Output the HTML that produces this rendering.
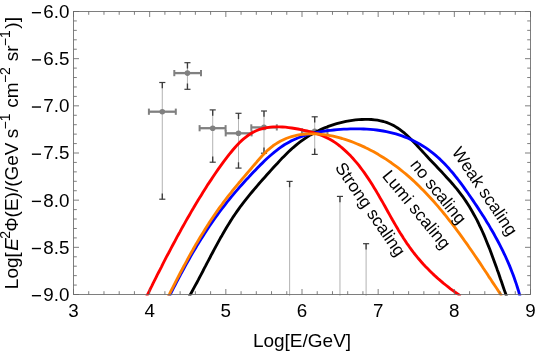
<!DOCTYPE html>
<html><head><meta charset="utf-8"><title>plot</title>
<style>html,body{margin:0;padding:0;background:#fff;}body{width:536px;height:354px;overflow:hidden;font-family:"Liberation Sans",sans-serif;}svg{display:block;will-change:transform}</style>
</head><body>
<svg width="536" height="354" viewBox="0 0 536 354">
<rect width="536" height="354" fill="#fff"/>
<defs><clipPath id="c"><rect x="73.5" y="11.5" width="457.0" height="284.1"/></clipPath></defs>
<g><line x1="289.6" y1="181.4" x2="289.6" y2="295.8" stroke="#b6b6b6" stroke-width="1.05"/><line x1="286.55" y1="181.4" x2="292.65000000000003" y2="181.4" stroke="#3c3c3c" stroke-width="1.2"/><line x1="289.6" y1="181.4" x2="289.6" y2="187.20000000000002" stroke="#3c3c3c" stroke-width="1.35"/><line x1="339.95" y1="196.4" x2="339.95" y2="295.8" stroke="#b6b6b6" stroke-width="1.05"/><line x1="336.9" y1="196.4" x2="343.0" y2="196.4" stroke="#3c3c3c" stroke-width="1.2"/><line x1="339.95" y1="196.4" x2="339.95" y2="202.20000000000002" stroke="#3c3c3c" stroke-width="1.35"/><line x1="366.1" y1="243.7" x2="366.1" y2="295.8" stroke="#b6b6b6" stroke-width="1.05"/><line x1="363.05" y1="243.7" x2="369.15000000000003" y2="243.7" stroke="#3c3c3c" stroke-width="1.2"/><line x1="366.1" y1="243.7" x2="366.1" y2="249.5" stroke="#3c3c3c" stroke-width="1.35"/><line x1="162.3" y1="82.5" x2="162.3" y2="199.2" stroke="#b6b6b6" stroke-width="1.05"/><line x1="159.25" y1="82.5" x2="165.35000000000002" y2="82.5" stroke="#3c3c3c" stroke-width="1.2"/><line x1="162.3" y1="82.5" x2="162.3" y2="88.3" stroke="#3c3c3c" stroke-width="1.35"/><line x1="159.25" y1="199.2" x2="165.35000000000002" y2="199.2" stroke="#3c3c3c" stroke-width="1.2"/><line x1="162.3" y1="199.2" x2="162.3" y2="193.39999999999998" stroke="#3c3c3c" stroke-width="1.35"/><line x1="148.9" y1="111.7" x2="175.8" y2="111.7" stroke="#808080" stroke-width="2.3"/><line x1="148.9" y1="108.60000000000001" x2="148.9" y2="114.8" stroke="#808080" stroke-width="2.0"/><line x1="175.8" y1="108.60000000000001" x2="175.8" y2="114.8" stroke="#808080" stroke-width="2.0"/><circle cx="162.3" cy="111.7" r="2.8" fill="#808080"/><line x1="187.45" y1="62.7" x2="187.45" y2="89.3" stroke="#b6b6b6" stroke-width="1.05"/><line x1="184.39999999999998" y1="62.7" x2="190.5" y2="62.7" stroke="#3c3c3c" stroke-width="1.2"/><line x1="187.45" y1="62.7" x2="187.45" y2="68.5" stroke="#3c3c3c" stroke-width="1.35"/><line x1="184.39999999999998" y1="89.3" x2="190.5" y2="89.3" stroke="#3c3c3c" stroke-width="1.2"/><line x1="187.45" y1="89.3" x2="187.45" y2="83.5" stroke="#3c3c3c" stroke-width="1.35"/><line x1="174.3" y1="73.1" x2="201" y2="73.1" stroke="#808080" stroke-width="2.3"/><line x1="174.3" y1="70.0" x2="174.3" y2="76.19999999999999" stroke="#808080" stroke-width="2.0"/><line x1="201" y1="70.0" x2="201" y2="76.19999999999999" stroke="#808080" stroke-width="2.0"/><circle cx="187.45" cy="73.1" r="2.8" fill="#808080"/><line x1="212.7" y1="109.9" x2="212.7" y2="162.2" stroke="#b6b6b6" stroke-width="1.05"/><line x1="209.64999999999998" y1="109.9" x2="215.75" y2="109.9" stroke="#3c3c3c" stroke-width="1.2"/><line x1="212.7" y1="109.9" x2="212.7" y2="115.7" stroke="#3c3c3c" stroke-width="1.35"/><line x1="209.64999999999998" y1="162.2" x2="215.75" y2="162.2" stroke="#3c3c3c" stroke-width="1.2"/><line x1="212.7" y1="162.2" x2="212.7" y2="156.39999999999998" stroke="#3c3c3c" stroke-width="1.35"/><line x1="199.6" y1="128.2" x2="225.6" y2="128.2" stroke="#808080" stroke-width="2.3"/><line x1="199.6" y1="125.1" x2="199.6" y2="131.29999999999998" stroke="#808080" stroke-width="2.0"/><line x1="225.6" y1="125.1" x2="225.6" y2="131.29999999999998" stroke="#808080" stroke-width="2.0"/><circle cx="212.7" cy="128.2" r="2.8" fill="#808080"/><line x1="238.5" y1="113.3" x2="238.5" y2="168.1" stroke="#b6b6b6" stroke-width="1.05"/><line x1="235.45" y1="113.3" x2="241.55" y2="113.3" stroke="#3c3c3c" stroke-width="1.2"/><line x1="238.5" y1="113.3" x2="238.5" y2="119.1" stroke="#3c3c3c" stroke-width="1.35"/><line x1="235.45" y1="168.1" x2="241.55" y2="168.1" stroke="#3c3c3c" stroke-width="1.2"/><line x1="238.5" y1="168.1" x2="238.5" y2="162.29999999999998" stroke="#3c3c3c" stroke-width="1.35"/><line x1="225.7" y1="133.3" x2="251.6" y2="133.3" stroke="#808080" stroke-width="2.3"/><line x1="225.7" y1="130.20000000000002" x2="225.7" y2="136.4" stroke="#808080" stroke-width="2.0"/><line x1="251.6" y1="130.20000000000002" x2="251.6" y2="136.4" stroke="#808080" stroke-width="2.0"/><circle cx="238.5" cy="133.3" r="2.8" fill="#808080"/><line x1="264" y1="111" x2="264" y2="153.2" stroke="#b6b6b6" stroke-width="1.05"/><line x1="260.95" y1="111" x2="267.05" y2="111" stroke="#3c3c3c" stroke-width="1.2"/><line x1="264" y1="111" x2="264" y2="116.8" stroke="#3c3c3c" stroke-width="1.35"/><line x1="260.95" y1="153.2" x2="267.05" y2="153.2" stroke="#3c3c3c" stroke-width="1.2"/><line x1="264" y1="153.2" x2="264" y2="147.39999999999998" stroke="#3c3c3c" stroke-width="1.35"/><line x1="251.3" y1="127.4" x2="276.8" y2="127.4" stroke="#808080" stroke-width="2.3"/><line x1="251.3" y1="124.30000000000001" x2="251.3" y2="130.5" stroke="#808080" stroke-width="2.0"/><line x1="276.8" y1="124.30000000000001" x2="276.8" y2="130.5" stroke="#808080" stroke-width="2.0"/><circle cx="264" cy="127.4" r="2.8" fill="#808080"/><line x1="314.7" y1="116.8" x2="314.7" y2="154.4" stroke="#b6b6b6" stroke-width="1.05"/><line x1="311.65" y1="116.8" x2="317.75" y2="116.8" stroke="#3c3c3c" stroke-width="1.2"/><line x1="314.7" y1="116.8" x2="314.7" y2="122.6" stroke="#3c3c3c" stroke-width="1.35"/><line x1="311.65" y1="154.4" x2="317.75" y2="154.4" stroke="#3c3c3c" stroke-width="1.2"/><line x1="314.7" y1="154.4" x2="314.7" y2="148.6" stroke="#3c3c3c" stroke-width="1.35"/><line x1="301.9" y1="131.3" x2="327.5" y2="131.3" stroke="#808080" stroke-width="2.3"/><line x1="301.9" y1="128.20000000000002" x2="301.9" y2="134.4" stroke="#808080" stroke-width="2.0"/><line x1="327.5" y1="128.20000000000002" x2="327.5" y2="134.4" stroke="#808080" stroke-width="2.0"/><circle cx="314.7" cy="131.3" r="2.8" fill="#808080"/></g>
<g clip-path="url(#c)" fill="none" stroke-width="2.85" stroke-linejoin="round" stroke-linecap="butt">
<path d="M189.2,296.5 L190.8,293.7 L192.3,291.0 L193.8,288.2 L195.3,285.4 L196.8,282.7 L198.3,279.9 L199.7,277.1 L201.2,274.3 L202.7,271.5 L204.1,268.7 L205.6,265.9 L207.0,263.1 L208.5,260.3 L210.0,257.5 L211.4,254.7 L212.9,252.0 L214.4,249.2 L215.9,246.4 L217.4,243.6 L218.9,240.9 L220.4,238.1 L222.0,235.4 L223.5,232.7 L225.1,230.0 L226.7,227.3 L228.4,224.6 L230.0,221.9 L231.7,219.3 L233.4,216.6 L235.2,214.0 L237.0,211.4 L238.8,208.9 L240.6,206.3 L242.5,203.8 L244.4,201.3 L246.4,198.8 L248.4,196.4 L250.4,193.9 L252.4,191.5 L254.4,189.1 L256.5,186.7 L258.5,184.3 L260.6,181.9 L262.7,179.5 L264.8,177.2 L266.9,174.8 L269.0,172.5 L271.1,170.1 L273.2,167.8 L275.3,165.5 L277.5,163.2 L279.6,160.9 L281.7,158.6 L283.9,156.4 L286.1,154.2 L288.3,152.0 L290.6,149.9 L292.9,147.8 L295.2,145.8 L297.6,143.8 L300.1,141.9 L302.6,140.1 L305.2,138.3 L307.8,136.6 L310.5,134.9 L313.2,133.4 L316.0,131.9 L318.8,130.5 L321.7,129.1 L324.6,127.9 L327.6,126.7 L330.6,125.6 L333.6,124.6 L336.7,123.7 L339.8,122.8 L342.9,122.1 L346.0,121.4 L349.2,120.8 L352.3,120.3 L355.5,119.9 L358.7,119.6 L361.9,119.5 L365.0,119.4 L368.2,119.4 L371.3,119.5 L374.5,119.8 L377.5,120.2 L380.5,120.8 L383.5,121.5 L386.4,122.4 L389.2,123.5 L392.0,124.7 L394.6,126.1 L397.2,127.7 L399.7,129.4 L402.2,131.3 L404.6,133.2 L406.9,135.3 L409.2,137.5 L411.5,139.7 L413.7,142.0 L415.9,144.3 L418.1,146.7 L420.3,149.1 L422.5,151.5 L424.7,153.9 L426.9,156.3 L429.1,158.7 L431.3,161.0 L433.5,163.3 L435.7,165.6 L437.9,168.0 L440.1,170.3 L442.3,172.6 L444.4,174.9 L446.5,177.2 L448.6,179.5 L450.7,181.8 L452.8,184.2 L454.8,186.6 L456.8,188.9 L458.7,191.4 L460.6,193.8 L462.5,196.3 L464.2,198.8 L466.0,201.4 L467.7,204.0 L469.3,206.6 L470.9,209.3 L472.5,212.0 L474.0,214.7 L475.5,217.4 L477.0,220.2 L478.4,223.0 L479.7,225.8 L481.1,228.7 L482.4,231.5 L483.7,234.4 L484.9,237.3 L486.1,240.2 L487.3,243.2 L488.5,246.1 L489.7,249.0 L490.8,252.0 L491.9,255.0 L493.0,257.9 L494.1,260.9 L495.2,263.9 L496.3,266.9 L497.3,269.9 L498.4,272.8 L499.4,275.8 L500.4,278.8 L501.5,281.8 L502.5,284.7 L503.5,287.7 L504.5,290.6 L505.6,293.6 L506.6,296.5" stroke="#000"/>
<path d="M169.2,296.5 L170.7,293.6 L172.2,290.7 L173.7,287.7 L175.2,284.8 L176.7,281.9 L178.2,279.0 L179.8,276.1 L181.3,273.2 L182.9,270.4 L184.4,267.5 L186.0,264.6 L187.6,261.8 L189.2,259.0 L190.8,256.1 L192.4,253.3 L194.1,250.5 L195.8,247.7 L197.4,244.9 L199.1,242.2 L200.8,239.4 L202.6,236.7 L204.3,233.9 L206.1,231.2 L207.9,228.5 L209.7,225.8 L211.5,223.1 L213.4,220.5 L215.3,217.8 L217.2,215.2 L219.1,212.5 L221.0,209.9 L223.0,207.3 L225.0,204.8 L227.0,202.2 L229.1,199.7 L231.1,197.1 L233.2,194.6 L235.3,192.1 L237.5,189.6 L239.6,187.1 L241.8,184.7 L244.0,182.2 L246.2,179.8 L248.5,177.4 L250.7,175.0 L253.0,172.6 L255.3,170.2 L257.6,167.8 L259.9,165.4 L262.3,163.1 L264.6,160.8 L267.0,158.5 L269.5,156.3 L271.9,154.2 L274.4,152.1 L277.0,150.1 L279.5,148.1 L282.2,146.3 L284.8,144.5 L287.6,142.9 L290.3,141.4 L293.2,140.0 L296.1,138.7 L299.0,137.5 L302.0,136.4 L305.0,135.4 L308.1,134.5 L311.2,133.6 L314.4,132.9 L317.5,132.3 L320.7,131.7 L324.0,131.2 L327.2,130.7 L330.5,130.3 L333.8,130.0 L337.1,129.7 L340.4,129.4 L343.7,129.2 L347.0,129.1 L350.3,128.9 L353.7,128.9 L357.0,128.9 L360.3,128.9 L363.6,129.0 L366.9,129.2 L370.2,129.4 L373.5,129.7 L376.7,130.0 L380.0,130.5 L383.2,131.0 L386.4,131.6 L389.6,132.3 L392.7,133.1 L395.9,133.9 L399.0,134.9 L402.0,135.9 L405.1,137.1 L408.1,138.3 L411.0,139.6 L413.9,141.0 L416.8,142.5 L419.6,144.0 L422.4,145.7 L425.1,147.4 L427.7,149.2 L430.3,151.1 L432.9,153.1 L435.4,155.1 L437.8,157.2 L440.2,159.4 L442.5,161.7 L444.8,164.0 L447.0,166.4 L449.2,168.8 L451.3,171.3 L453.5,173.8 L455.5,176.4 L457.6,179.0 L459.6,181.6 L461.5,184.2 L463.5,186.9 L465.4,189.6 L467.3,192.3 L469.2,195.0 L471.1,197.7 L472.9,200.4 L474.8,203.2 L476.6,205.9 L478.4,208.6 L480.2,211.4 L481.9,214.1 L483.7,216.8 L485.4,219.6 L487.1,222.4 L488.8,225.1 L490.4,227.9 L492.1,230.7 L493.7,233.5 L495.2,236.3 L496.8,239.2 L498.3,242.0 L499.8,244.9 L501.3,247.8 L502.7,250.7 L504.1,253.6 L505.5,256.5 L506.8,259.5 L508.1,262.4 L509.4,265.4 L510.6,268.4 L511.8,271.5 L513.0,274.5 L514.1,277.6 L515.2,280.7 L516.3,283.9 L517.3,287.0 L518.3,290.2 L519.2,293.4 L520.1,296.7" stroke="#0000ff"/>
<path d="M146.6,296.5 L147.9,293.8 L149.3,291.1 L150.6,288.3 L152.0,285.6 L153.3,282.9 L154.7,280.2 L156.1,277.4 L157.4,274.7 L158.8,272.0 L160.2,269.3 L161.6,266.6 L162.9,263.9 L164.3,261.2 L165.7,258.4 L167.1,255.7 L168.6,253.0 L170.0,250.3 L171.4,247.6 L172.8,245.0 L174.3,242.3 L175.7,239.6 L177.1,236.9 L178.6,234.2 L180.1,231.6 L181.5,228.9 L183.0,226.2 L184.5,223.6 L186.0,220.9 L187.5,218.3 L189.0,215.7 L190.5,213.1 L192.0,210.4 L193.6,207.8 L195.1,205.2 L196.7,202.6 L198.2,200.0 L199.8,197.5 L201.4,194.9 L203.0,192.3 L204.6,189.8 L206.2,187.2 L207.8,184.6 L209.5,182.1 L211.2,179.6 L212.9,177.0 L214.6,174.5 L216.3,172.0 L218.1,169.4 L219.9,166.9 L221.7,164.4 L223.5,161.9 L225.4,159.4 L227.3,156.9 L229.2,154.4 L231.2,152.0 L233.2,149.5 L235.2,147.2 L237.3,144.9 L239.4,142.7 L241.6,140.6 L243.9,138.6 L246.2,136.8 L248.6,135.0 L251.0,133.5 L253.6,132.0 L256.2,130.8 L258.8,129.7 L261.6,128.9 L264.4,128.1 L267.3,127.6 L270.3,127.2 L273.2,126.9 L276.3,126.8 L279.3,126.9 L282.4,127.0 L285.5,127.2 L288.6,127.6 L291.7,128.0 L294.8,128.5 L297.9,129.0 L301.0,129.7 L304.1,130.3 L307.1,131.0 L310.1,131.8 L313.1,132.6 L316.0,133.5 L318.9,134.4 L321.7,135.5 L324.5,136.6 L327.2,137.9 L329.8,139.3 L332.4,140.8 L334.9,142.4 L337.4,144.2 L339.8,146.0 L342.1,147.9 L344.3,149.9 L346.5,151.9 L348.7,154.0 L350.8,156.1 L352.8,158.3 L354.8,160.6 L356.8,162.9 L358.7,165.2 L360.5,167.6 L362.3,170.0 L364.1,172.4 L365.8,174.9 L367.5,177.4 L369.2,179.9 L370.9,182.5 L372.5,185.1 L374.1,187.7 L375.7,190.3 L377.2,192.9 L378.8,195.6 L380.3,198.3 L381.9,200.9 L383.4,203.6 L384.9,206.3 L386.4,209.0 L387.9,211.7 L389.4,214.4 L390.9,217.1 L392.4,219.8 L394.0,222.5 L395.5,225.1 L397.1,227.8 L398.6,230.4 L400.2,233.0 L401.9,235.6 L403.5,238.2 L405.2,240.7 L406.8,243.3 L408.6,245.7 L410.3,248.2 L412.1,250.6 L413.9,253.0 L415.8,255.4 L417.7,257.7 L419.7,260.0 L421.6,262.2 L423.6,264.5 L425.7,266.7 L427.8,268.8 L429.9,270.9 L432.0,273.0 L434.2,275.1 L436.4,277.1 L438.7,279.2 L441.0,281.1 L443.3,283.1 L445.7,285.0 L448.1,286.9 L450.5,288.8 L453.0,290.6 L455.5,292.4 L458.0,294.2 L460.6,296.0" stroke="#ff0000"/>
<path d="M168.2,296.5 L169.6,293.8 L170.9,291.1 L172.3,288.5 L173.6,285.8 L175.0,283.1 L176.4,280.4 L177.8,277.7 L179.2,275.0 L180.6,272.2 L182.1,269.5 L183.5,266.8 L185.0,264.1 L186.5,261.4 L187.9,258.6 L189.4,255.9 L190.9,253.2 L192.5,250.5 L194.0,247.8 L195.5,245.1 L197.1,242.5 L198.7,239.8 L200.3,237.1 L201.9,234.5 L203.5,231.9 L205.1,229.2 L206.7,226.7 L208.4,224.1 L210.0,221.5 L211.7,219.0 L213.4,216.5 L215.1,214.0 L216.8,211.5 L218.5,209.1 L220.3,206.6 L222.1,204.3 L223.8,201.9 L225.6,199.5 L227.4,197.2 L229.2,194.9 L231.1,192.6 L232.9,190.2 L234.8,187.9 L236.7,185.6 L238.6,183.3 L240.6,181.0 L242.5,178.7 L244.5,176.3 L246.5,174.0 L248.5,171.6 L250.6,169.2 L252.7,166.7 L254.8,164.3 L256.9,161.8 L259.1,159.3 L261.3,156.8 L263.5,154.4 L265.8,152.0 L268.1,149.8 L270.5,147.8 L273.0,145.8 L275.5,144.1 L278.1,142.5 L280.7,141.0 L283.4,139.7 L286.1,138.5 L288.8,137.5 L291.6,136.6 L294.5,135.8 L297.3,135.2 L300.2,134.7 L303.1,134.3 L306.1,134.0 L309.0,133.9 L312.0,133.8 L315.0,133.9 L318.0,134.0 L321.0,134.3 L324.0,134.6 L327.0,135.1 L330.1,135.6 L333.1,136.2 L336.1,136.9 L339.1,137.7 L342.1,138.5 L345.0,139.4 L348.0,140.4 L350.9,141.4 L353.8,142.5 L356.7,143.7 L359.5,144.9 L362.3,146.1 L365.1,147.4 L367.9,148.8 L370.6,150.2 L373.3,151.6 L375.9,153.1 L378.5,154.6 L381.1,156.2 L383.7,157.8 L386.3,159.4 L388.8,161.1 L391.3,162.8 L393.7,164.6 L396.2,166.4 L398.6,168.2 L401.0,170.1 L403.3,172.0 L405.7,173.9 L408.0,175.9 L410.3,177.9 L412.5,179.9 L414.8,182.0 L417.0,184.1 L419.2,186.2 L421.3,188.4 L423.5,190.6 L425.6,192.8 L427.7,195.0 L429.8,197.2 L431.9,199.5 L434.0,201.8 L436.0,204.1 L438.0,206.4 L440.0,208.8 L442.0,211.2 L443.9,213.5 L445.9,215.9 L447.8,218.4 L449.7,220.8 L451.6,223.2 L453.5,225.7 L455.4,228.2 L457.2,230.6 L459.1,233.1 L460.9,235.6 L462.7,238.1 L464.5,240.7 L466.3,243.2 L468.1,245.7 L469.8,248.2 L471.6,250.8 L473.3,253.3 L475.0,255.8 L476.8,258.4 L478.5,260.9 L480.2,263.4 L481.9,266.0 L483.5,268.5 L485.2,271.0 L486.9,273.5 L488.5,276.1 L490.2,278.6 L491.8,281.1 L493.5,283.6 L495.1,286.0 L496.8,288.5 L498.4,291.0 L500.0,293.4 L501.6,295.9" stroke="#ff8000"/>
</g>
<g stroke="#686868" stroke-width="0.85" fill="none"><rect x="73.5" y="11.5" width="457.0" height="283.0" fill="none" stroke="#686868" stroke-width="0.85"/><line x1="73.50" y1="294.5" x2="73.50" y2="289.0"/><line x1="73.50" y1="11.5" x2="73.50" y2="17.0"/><line x1="88.73" y1="294.5" x2="88.73" y2="291.2"/><line x1="88.73" y1="11.5" x2="88.73" y2="14.8"/><line x1="103.97" y1="294.5" x2="103.97" y2="291.2"/><line x1="103.97" y1="11.5" x2="103.97" y2="14.8"/><line x1="119.20" y1="294.5" x2="119.20" y2="291.2"/><line x1="119.20" y1="11.5" x2="119.20" y2="14.8"/><line x1="134.43" y1="294.5" x2="134.43" y2="291.2"/><line x1="134.43" y1="11.5" x2="134.43" y2="14.8"/><line x1="149.67" y1="294.5" x2="149.67" y2="289.0"/><line x1="149.67" y1="11.5" x2="149.67" y2="17.0"/><line x1="164.90" y1="294.5" x2="164.90" y2="291.2"/><line x1="164.90" y1="11.5" x2="164.90" y2="14.8"/><line x1="180.13" y1="294.5" x2="180.13" y2="291.2"/><line x1="180.13" y1="11.5" x2="180.13" y2="14.8"/><line x1="195.37" y1="294.5" x2="195.37" y2="291.2"/><line x1="195.37" y1="11.5" x2="195.37" y2="14.8"/><line x1="210.60" y1="294.5" x2="210.60" y2="291.2"/><line x1="210.60" y1="11.5" x2="210.60" y2="14.8"/><line x1="225.83" y1="294.5" x2="225.83" y2="289.0"/><line x1="225.83" y1="11.5" x2="225.83" y2="17.0"/><line x1="241.07" y1="294.5" x2="241.07" y2="291.2"/><line x1="241.07" y1="11.5" x2="241.07" y2="14.8"/><line x1="256.30" y1="294.5" x2="256.30" y2="291.2"/><line x1="256.30" y1="11.5" x2="256.30" y2="14.8"/><line x1="271.53" y1="294.5" x2="271.53" y2="291.2"/><line x1="271.53" y1="11.5" x2="271.53" y2="14.8"/><line x1="286.77" y1="294.5" x2="286.77" y2="291.2"/><line x1="286.77" y1="11.5" x2="286.77" y2="14.8"/><line x1="302.00" y1="294.5" x2="302.00" y2="289.0"/><line x1="302.00" y1="11.5" x2="302.00" y2="17.0"/><line x1="317.23" y1="294.5" x2="317.23" y2="291.2"/><line x1="317.23" y1="11.5" x2="317.23" y2="14.8"/><line x1="332.47" y1="294.5" x2="332.47" y2="291.2"/><line x1="332.47" y1="11.5" x2="332.47" y2="14.8"/><line x1="347.70" y1="294.5" x2="347.70" y2="291.2"/><line x1="347.70" y1="11.5" x2="347.70" y2="14.8"/><line x1="362.93" y1="294.5" x2="362.93" y2="291.2"/><line x1="362.93" y1="11.5" x2="362.93" y2="14.8"/><line x1="378.17" y1="294.5" x2="378.17" y2="289.0"/><line x1="378.17" y1="11.5" x2="378.17" y2="17.0"/><line x1="393.40" y1="294.5" x2="393.40" y2="291.2"/><line x1="393.40" y1="11.5" x2="393.40" y2="14.8"/><line x1="408.63" y1="294.5" x2="408.63" y2="291.2"/><line x1="408.63" y1="11.5" x2="408.63" y2="14.8"/><line x1="423.87" y1="294.5" x2="423.87" y2="291.2"/><line x1="423.87" y1="11.5" x2="423.87" y2="14.8"/><line x1="439.10" y1="294.5" x2="439.10" y2="291.2"/><line x1="439.10" y1="11.5" x2="439.10" y2="14.8"/><line x1="454.33" y1="294.5" x2="454.33" y2="289.0"/><line x1="454.33" y1="11.5" x2="454.33" y2="17.0"/><line x1="469.57" y1="294.5" x2="469.57" y2="291.2"/><line x1="469.57" y1="11.5" x2="469.57" y2="14.8"/><line x1="484.80" y1="294.5" x2="484.80" y2="291.2"/><line x1="484.80" y1="11.5" x2="484.80" y2="14.8"/><line x1="500.03" y1="294.5" x2="500.03" y2="291.2"/><line x1="500.03" y1="11.5" x2="500.03" y2="14.8"/><line x1="515.27" y1="294.5" x2="515.27" y2="291.2"/><line x1="515.27" y1="11.5" x2="515.27" y2="14.8"/><line x1="530.50" y1="294.5" x2="530.50" y2="289.0"/><line x1="530.50" y1="11.5" x2="530.50" y2="17.0"/><line x1="73.5" y1="11.50" x2="79.0" y2="11.50"/><line x1="530.5" y1="11.50" x2="525.0" y2="11.50"/><line x1="73.5" y1="20.93" x2="76.8" y2="20.93"/><line x1="530.5" y1="20.93" x2="527.2" y2="20.93"/><line x1="73.5" y1="30.37" x2="76.8" y2="30.37"/><line x1="530.5" y1="30.37" x2="527.2" y2="30.37"/><line x1="73.5" y1="39.80" x2="76.8" y2="39.80"/><line x1="530.5" y1="39.80" x2="527.2" y2="39.80"/><line x1="73.5" y1="49.23" x2="76.8" y2="49.23"/><line x1="530.5" y1="49.23" x2="527.2" y2="49.23"/><line x1="73.5" y1="58.67" x2="79.0" y2="58.67"/><line x1="530.5" y1="58.67" x2="525.0" y2="58.67"/><line x1="73.5" y1="68.10" x2="76.8" y2="68.10"/><line x1="530.5" y1="68.10" x2="527.2" y2="68.10"/><line x1="73.5" y1="77.53" x2="76.8" y2="77.53"/><line x1="530.5" y1="77.53" x2="527.2" y2="77.53"/><line x1="73.5" y1="86.97" x2="76.8" y2="86.97"/><line x1="530.5" y1="86.97" x2="527.2" y2="86.97"/><line x1="73.5" y1="96.40" x2="76.8" y2="96.40"/><line x1="530.5" y1="96.40" x2="527.2" y2="96.40"/><line x1="73.5" y1="105.83" x2="79.0" y2="105.83"/><line x1="530.5" y1="105.83" x2="525.0" y2="105.83"/><line x1="73.5" y1="115.27" x2="76.8" y2="115.27"/><line x1="530.5" y1="115.27" x2="527.2" y2="115.27"/><line x1="73.5" y1="124.70" x2="76.8" y2="124.70"/><line x1="530.5" y1="124.70" x2="527.2" y2="124.70"/><line x1="73.5" y1="134.13" x2="76.8" y2="134.13"/><line x1="530.5" y1="134.13" x2="527.2" y2="134.13"/><line x1="73.5" y1="143.57" x2="76.8" y2="143.57"/><line x1="530.5" y1="143.57" x2="527.2" y2="143.57"/><line x1="73.5" y1="153.00" x2="79.0" y2="153.00"/><line x1="530.5" y1="153.00" x2="525.0" y2="153.00"/><line x1="73.5" y1="162.43" x2="76.8" y2="162.43"/><line x1="530.5" y1="162.43" x2="527.2" y2="162.43"/><line x1="73.5" y1="171.87" x2="76.8" y2="171.87"/><line x1="530.5" y1="171.87" x2="527.2" y2="171.87"/><line x1="73.5" y1="181.30" x2="76.8" y2="181.30"/><line x1="530.5" y1="181.30" x2="527.2" y2="181.30"/><line x1="73.5" y1="190.73" x2="76.8" y2="190.73"/><line x1="530.5" y1="190.73" x2="527.2" y2="190.73"/><line x1="73.5" y1="200.17" x2="79.0" y2="200.17"/><line x1="530.5" y1="200.17" x2="525.0" y2="200.17"/><line x1="73.5" y1="209.60" x2="76.8" y2="209.60"/><line x1="530.5" y1="209.60" x2="527.2" y2="209.60"/><line x1="73.5" y1="219.03" x2="76.8" y2="219.03"/><line x1="530.5" y1="219.03" x2="527.2" y2="219.03"/><line x1="73.5" y1="228.47" x2="76.8" y2="228.47"/><line x1="530.5" y1="228.47" x2="527.2" y2="228.47"/><line x1="73.5" y1="237.90" x2="76.8" y2="237.90"/><line x1="530.5" y1="237.90" x2="527.2" y2="237.90"/><line x1="73.5" y1="247.33" x2="79.0" y2="247.33"/><line x1="530.5" y1="247.33" x2="525.0" y2="247.33"/><line x1="73.5" y1="256.77" x2="76.8" y2="256.77"/><line x1="530.5" y1="256.77" x2="527.2" y2="256.77"/><line x1="73.5" y1="266.20" x2="76.8" y2="266.20"/><line x1="530.5" y1="266.20" x2="527.2" y2="266.20"/><line x1="73.5" y1="275.63" x2="76.8" y2="275.63"/><line x1="530.5" y1="275.63" x2="527.2" y2="275.63"/><line x1="73.5" y1="285.07" x2="76.8" y2="285.07"/><line x1="530.5" y1="285.07" x2="527.2" y2="285.07"/><line x1="73.5" y1="294.50" x2="79.0" y2="294.50"/><line x1="530.5" y1="294.50" x2="525.0" y2="294.50"/></g>
<g font-family="Liberation Sans, sans-serif" font-size="18.8" fill="#000"><text x="73.50" y="316.7" text-anchor="middle">3</text><text x="149.67" y="316.7" text-anchor="middle">4</text><text x="225.83" y="316.7" text-anchor="middle">5</text><text x="302.00" y="316.7" text-anchor="middle">6</text><text x="378.17" y="316.7" text-anchor="middle">7</text><text x="454.33" y="316.7" text-anchor="middle">8</text><text x="530.50" y="316.7" text-anchor="middle">9</text><text x="69.4" y="17.90" text-anchor="end">6.0</text><rect x="31.9" y="12.00" width="9.1" height="1.4"/><text x="69.4" y="65.07" text-anchor="end">6.5</text><rect x="31.9" y="59.17" width="9.1" height="1.4"/><text x="69.4" y="112.23" text-anchor="end">7.0</text><rect x="31.9" y="106.33" width="9.1" height="1.4"/><text x="69.4" y="159.40" text-anchor="end">7.5</text><rect x="31.9" y="153.50" width="9.1" height="1.4"/><text x="69.4" y="206.57" text-anchor="end">8.0</text><rect x="31.9" y="200.67" width="9.1" height="1.4"/><text x="69.4" y="253.73" text-anchor="end">8.5</text><rect x="31.9" y="247.83" width="9.1" height="1.4"/><text x="69.4" y="300.90" text-anchor="end">9.0</text><rect x="31.9" y="295.00" width="9.1" height="1.4"/></g>
<text x="302" y="347.1" text-anchor="middle" font-family="Liberation Sans, sans-serif" font-size="19" fill="#000">Log[E/GeV]</text>
<text transform="translate(18.2,153.1) rotate(-90)" text-anchor="middle" font-family="Liberation Sans, sans-serif" font-size="19" fill="#000">Log[<tspan font-style="italic" dx="1.5">E</tspan><tspan font-size="14" dy="-8.2" dx="-0.7">2</tspan><tspan dy="8.2" dx="-0.6" font-size="17.6">Φ</tspan><tspan font-size="19">(E)/(GeV</tspan><tspan dx="-1"> s</tspan><tspan font-size="14" dy="-8.2" dx="-0.8">−1</tspan><tspan font-size="19" dy="8.2" dx="0.6"> cm</tspan><tspan font-size="14" dy="-8.2" dx="-0.8">−2</tspan><tspan font-size="19" dy="8.2" dx="0.6"> sr</tspan><tspan font-size="14" dy="-8.2" dx="-0.8">−1</tspan><tspan font-size="19" dy="8.2" dx="1.6">)]</tspan></text>
<text transform="translate(334.5,167.6) rotate(55.4)" font-family="Liberation Sans, sans-serif" font-size="17.3" fill="#000">Strong scaling</text>
<text transform="translate(381.6,176.2) rotate(50.5)" font-family="Liberation Sans, sans-serif" font-size="17.3" fill="#000">Lumi scaling</text>
<text transform="translate(409.4,165) rotate(51)" font-family="Liberation Sans, sans-serif" font-size="17.3" fill="#000">no scaling</text>
<text transform="translate(451.2,152) rotate(55.9)" font-family="Liberation Sans, sans-serif" font-size="17.3" fill="#000">Weak scaling</text>
</svg>
</body></html>
